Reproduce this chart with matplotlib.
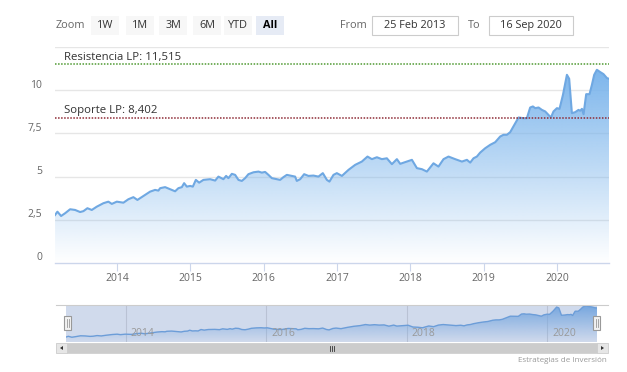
import numpy as np
import matplotlib
matplotlib.use('Agg')
import matplotlib.pyplot as plt
from matplotlib.patches import Rectangle, Polygon
from matplotlib.colors import to_rgb

# ---------------- data ----------------
years = [2013.154, 2013.186, 2013.236, 2013.291, 2013.359, 2013.427, 2013.495, 2013.540,
         2013.595, 2013.655, 2013.723, 2013.813, 2013.881, 2013.928, 2013.996, 2014.086,
         2014.154, 2014.222, 2014.277, 2014.359, 2014.450, 2014.518, 2014.563, 2014.587,
         2014.655, 2014.723, 2014.791, 2014.836, 2014.883, 2014.914, 2014.951, 2014.996,
         2015.033, 2015.074, 2015.119, 2015.177, 2015.269, 2015.337, 2015.382, 2015.450,
         2015.487, 2015.518, 2015.565, 2015.610, 2015.655, 2015.701, 2015.746, 2015.791,
         2015.860, 2015.928, 2015.974, 2016.019, 2016.064, 2016.111, 2016.179, 2016.224,
         2016.269, 2016.315, 2016.383, 2016.428, 2016.451, 2016.497, 2016.551, 2016.610,
         2016.678, 2016.746, 2016.806, 2016.861, 2016.896, 2016.951, 2016.997, 2017.066,
         2017.156, 2017.247, 2017.338, 2017.415, 2017.475, 2017.543, 2017.611, 2017.679,
         2017.748, 2017.816, 2017.861, 2017.952, 2018.021, 2018.089, 2018.157, 2018.225,
         2018.315, 2018.383, 2018.452, 2018.520, 2018.611, 2018.703, 2018.771, 2018.816,
         2018.861, 2018.907, 2018.952, 2019.020, 2019.089, 2019.157, 2019.225, 2019.270,
         2019.316, 2019.361, 2019.430, 2019.475, 2019.543, 2019.589, 2019.634, 2019.671,
         2019.703, 2019.748, 2019.794, 2019.839, 2019.884, 2019.917, 2019.952, 2019.999,
         2020.034, 2020.081, 2020.112, 2020.135, 2020.166, 2020.203, 2020.248, 2020.293,
         2020.316, 2020.340, 2020.362, 2020.398, 2020.443, 2020.476, 2020.507, 2020.544,
         2020.589, 2020.634, 2020.681, 2020.709]
values = [2.78, 2.97, 2.72, 2.88, 3.11, 3.07, 2.95, 3.00,
          3.17, 3.07, 3.26, 3.46, 3.55, 3.42, 3.55, 3.49,
          3.69, 3.81, 3.65, 3.88, 4.13, 4.23, 4.19, 4.33,
          4.39, 4.27, 4.15, 4.33, 4.39, 4.62, 4.42, 4.46,
          4.42, 4.81, 4.65, 4.81, 4.85, 4.77, 5.00, 4.85,
          5.04, 4.91, 5.16, 5.10, 4.81, 4.75, 4.91, 5.14,
          5.25, 5.29, 5.23, 5.27, 5.10, 4.91, 4.85, 4.81,
          4.97, 5.10, 5.04, 5.00, 4.75, 4.85, 5.14, 5.04,
          5.06, 5.00, 5.20, 4.81, 4.71, 5.10, 5.20, 5.04,
          5.39, 5.68, 5.87, 6.16, 6.01, 6.12, 6.01, 6.06,
          5.72, 6.01, 5.74, 5.87, 5.97, 5.49, 5.43, 5.29,
          5.77, 5.58, 6.01, 6.16, 6.01, 5.87, 5.97, 5.81,
          6.06, 6.16, 6.39, 6.64, 6.84, 6.99, 7.32, 7.42,
          7.42, 7.57, 8.09, 8.42, 8.38, 8.38, 9.00, 9.06,
          8.96, 9.00, 8.86, 8.77, 8.57, 8.42, 8.77, 8.96,
          8.92, 9.73, 10.41, 10.89, 10.66, 8.67, 8.73, 8.86,
          8.81, 8.92, 8.61, 9.77, 9.77, 10.31, 10.89, 11.18,
          11.05, 10.93, 10.70, 10.66]

x_start = 2013.153   # 25 Feb 2013
x_end = 2020.709     # 16 Sep 2020
y_ticks = [0, 2.5, 5, 7.5, 10, 12.5]
y_tick_labels = ['0', '2,5', '5', '7,5', '10', '']
x_ticks = [2014, 2015, 2016, 2017, 2018, 2019, 2020]
nav_ticks = [2014, 2016, 2018, 2020]
resistencia = 11.515
soporte = 8.402
resistencia_label = 'Resistencia LP: 11,515'
soporte_label = 'Soporte LP: 8,402'
zoom_buttons = ['1W', '1M', '3M', '6M', 'YTD', 'All']
date_from = '25 Feb 2013'
date_to = '16 Sep 2020'
credit = 'Estrategias de Inversión'

# ---------------- style ----------------
plt.rcParams['font.family'] = ['Open Sans', 'DejaVu Sans']
W, H = 627, 372
fig = plt.figure(figsize=(W / 100, H / 100), dpi=100)
fig.patch.set_facecolor('white')

def fpos(x0, y0, x1, y1):
    return [x0 / W, 1 - y1 / H, (x1 - x0) / W, (y1 - y0) / H]

series_rgb = np.array(to_rgb('#7cb5ec'))
line_color = '#6fa8e2'
grid_color = '#e6e6e6'
axis_color = '#ccd6eb'
label_color = '#666666'

def gradient_fill(ax, xs, ys, ybase, ytop, x0, x1):
    n = 256
    grad = np.zeros((n, 1, 4))
    grad[:, 0, :3] = series_rgb
    grad[:, 0, 3] = np.linspace(1.0, 0.0, n)
    im = ax.imshow(grad, extent=[x0, x1, ybase, ytop], aspect='auto',
                   origin='upper', zorder=1, interpolation='bilinear')
    verts = [(xs[0], ybase)] + list(zip(xs, ys)) + [(xs[-1], ybase)]
    poly = Polygon(verts, closed=True, facecolor='none', edgecolor='none',
                   transform=ax.transData)
    ax.add_patch(poly)
    im.set_clip_path(poly)

# ---------------- main chart ----------------
ax = fig.add_axes(fpos(55, 47, 609, 263))
ax.set_facecolor('none')
gradient_fill(ax, years, values, 0, max(values), x_start, x_end)
ax.plot(years, values, color=line_color, lw=1.5, zorder=3, solid_joinstyle='round')
ax.set_xlim(x_start, x_end)
ax.set_ylim(0, 12.5)

for yv in y_ticks[1:]:
    ax.axhline(yv, color=grid_color, lw=1, zorder=0.5)
for yv, lab in zip(y_ticks, y_tick_labels):
    if lab:
        ax.annotate(lab, xy=(0, yv), xycoords=('axes fraction', 'data'),
                    xytext=(-13, 5), textcoords='offset pixels',
                    ha='right', va='center', fontsize=7.5, color=label_color)
ax.set_yticks([])

ax.axhline(resistencia, color='#4f9a32', lw=1.1, ls=(0, (1, 1)), zorder=4)
ax.axhline(soporte, color='#8e2b36', lw=1.1, ls=(0, (1, 1)), zorder=4)
ax.annotate(resistencia_label, xy=(0, resistencia), xycoords=('axes fraction', 'data'),
            xytext=(9, 7), textcoords='offset pixels', ha='left', va='center',
            fontsize=8.2, color='#333333', zorder=5)
ax.annotate(soporte_label, xy=(0, soporte), xycoords=('axes fraction', 'data'),
            xytext=(9, 7), textcoords='offset pixels', ha='left', va='center',
            fontsize=8.2, color='#333333', zorder=5)

for s in ['top', 'left', 'right']:
    ax.spines[s].set_visible(False)
ax.spines['bottom'].set_color(axis_color)
ax.spines['bottom'].set_linewidth(1)
ax.set_xticks(x_ticks)
ax.set_xticklabels([str(t) for t in x_ticks])
ax.tick_params(axis='x', length=5.8, width=0.8, color=axis_color, labelcolor=label_color,
               labelsize=7.5, pad=1.2)

# ---------------- navigator ----------------
nav = fig.add_axes(fpos(66, 305, 597, 342))
nav.set_facecolor('white')
nav_lo, nav_hi = 1.43, 11.45
gradient_fill(nav, years, values, nav_lo, max(values), x_start, x_end)
nav.plot(years, values, color=line_color, lw=1.0, zorder=3)
nav.set_xlim(x_start, x_end)
nav.set_ylim(nav_lo, nav_hi)
for t in nav_ticks:
    nav.axvline(t, color='#dddddd', lw=0.8, zorder=0.5)
    nav.annotate(str(t), xy=(t, 0.24), xycoords=('data', 'axes fraction'),
                 xytext=(5, 0), textcoords='offset pixels', ha='left', va='center',
                 fontsize=7.5, color='#999999', zorder=6)
nav.axvspan(x_start, x_end, color=(102 / 255, 133 / 255, 194 / 255), alpha=0.3, lw=0, zorder=4)
nav.set_xticks([])
nav.set_yticks([])
for s in nav.spines.values():
    s.set_visible(False)

# ---------------- UI overlay (pixel coordinates) ----------------
ui = fig.add_axes([0, 0, 1, 1])
ui.set_xlim(0, W)
ui.set_ylim(H, 0)
ui.axis('off')

ui.text(56, 25, 'Zoom', ha='left', va='center', fontsize=7.8, color=label_color)
btn_x = [91, 126, 159, 193, 224, 256]
for lab, bx in zip(zoom_buttons, btn_x):
    sel = lab == 'All'
    ui.add_patch(Rectangle((bx, 16), 28, 19, facecolor='#e6ebf5' if sel else '#f7f7f7',
                           edgecolor='none'))
    ui.text(bx + 14, 25.5, lab, ha='center', va='center', fontsize=7.8,
            color='#000000' if sel else '#333333', fontweight='bold' if sel else 'normal')

ui.text(340, 25, 'From', ha='left', va='center', fontsize=7.8, color=label_color)
ui.add_patch(Rectangle((372, 16), 86, 19, facecolor='white', edgecolor='#cccccc', lw=0.8))
ui.text(415, 25.5, date_from, ha='center', va='center', fontsize=7.8, color='#333333')
ui.text(468, 25, 'To', ha='left', va='center', fontsize=7.8, color=label_color)
ui.add_patch(Rectangle((489, 16), 84, 19, facecolor='white', edgecolor='#cccccc', lw=0.8))
ui.text(531, 25.5, date_to, ha='center', va='center', fontsize=7.8, color='#333333')

# navigator outline
ui.plot([56, 608], [305, 305], color='#cccccc', lw=0.8)

# navigator handles
for hx in (64, 593):
    ui.add_patch(Rectangle((hx, 316), 7, 14, facecolor='#f2f2f2', edgecolor='#999999', lw=0.8))
    ui.plot([hx + 2.5, hx + 2.5], [319, 327], color='#999999', lw=0.6)
    ui.plot([hx + 4.5, hx + 4.5], [319, 327], color='#999999', lw=0.6)

# scrollbar
ui.add_patch(Rectangle((56, 343), 552, 10, facecolor='#f2f2f2', edgecolor='none'))
ui.add_patch(Rectangle((67, 343), 530, 10, facecolor='#cccccc', edgecolor='#cccccc', lw=0.5))
for bx, d in ((56, -1), (597, 1)):
    ui.add_patch(Rectangle((bx, 343), 11, 10, facecolor='#e6e6e6', edgecolor='#cccccc', lw=0.6))
    cx = bx + 5.5
    ui.add_patch(Polygon([(cx + 1.5 * d, 348), (cx - 1.5 * d, 346), (cx - 1.5 * d, 350)],
                         closed=True, facecolor='#333333', edgecolor='none'))
for gx in (330, 332, 334):
    ui.plot([gx, gx], [345.5, 350.5], color='#333333', lw=0.6)

ui.text(607, 361, credit, ha='right', va='center', fontsize=5.8, color='#999999')

fig.savefig('out.png', dpi=100, facecolor='white')
